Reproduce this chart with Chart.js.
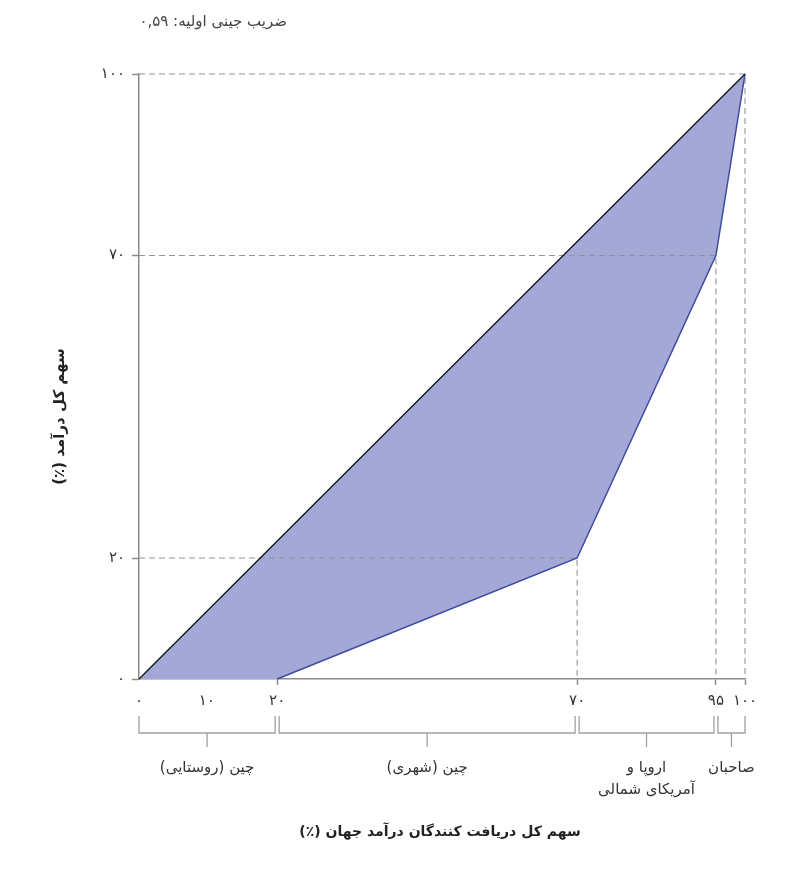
<!DOCTYPE html>
<html lang="fa">
<head>
<meta charset="utf-8">
<title>منحنی لورنز</title>
<script src="https://cdn.jsdelivr.net/npm/chart.js@4/dist/chart.umd.min.js"></script>
<style>
  html, body { margin: 0; padding: 0; background: #fff; }
  #wrap { width: 810px; height: 889px; }
</style>
</head>
<body>
<div id="wrap"><canvas id="lorenz-chart" width="810" height="889"></canvas></div>
<script>
// cumulative share of recipients (x) and of income (y), in percent
const populationShare = [0, 20, 70, 95, 100];
const incomeShare = [0, 0, 20, 70, 100];

const xTickValues = [0, 10, 20, 70, 95, 100];
const yTickValues = [0, 20, 70, 100];

// groups shown under the axis, each spanning two boundaries
const groupBounds = [0, 20, 70, 95, 100];
const groupNames = [
  ['چین (روستایی)'],
  ['چین (شهری)'],
  ['اروپا و', 'آمریکای شمالی'],
  ['صاحبان'],
];

const titleText = 'ضریب جینی اولیه: ۰,۵۹';
const xTitle = 'سهم کل دریافت کنندگان درآمد جهان (٪)';
const yTitle = 'سهم کل درآمد (٪)';

const FONT = '"DejaVu Sans", sans-serif';
const TEXT = '#333';
const GREY = '#8c8c8c';

function toFa(n) {
  return String(n).replace(/\d/g, (d) => '۰۱۲۳۴۵۶۷۸۹'[d]);
}

// the horizontal axis in the original is drawn stretched, not to scale
const xWarpValues = [0, 10, 20, 70, 95, 100];
const xWarpShares = [0, 0.112, 0.228, 0.723, 0.952, 1];

function piecewise(v, from, to) {
  for (let i = 1; i < from.length; i++) {
    if (v <= from[i] || i === from.length - 1) {
      const t = (v - from[i - 1]) / (from[i] - from[i - 1]);
      return to[i - 1] + t * (to[i] - to[i - 1]);
    }
  }
  return to[0];
}

class WarpedScale extends Chart.LinearScale {
  getPixelForValue(value) {
    if (value === null || isNaN(value)) return NaN;
    return this.getPixelForDecimal(piecewise(value, xWarpValues, xWarpShares));
  }
  getValueForPixel(pixel) {
    return piecewise(this.getDecimalForPixel(pixel), xWarpShares, xWarpValues);
  }
}
WarpedScale.id = 'warped';
Chart.register(WarpedScale);

const lorenzPoints = populationShare.map((x, i) => ({ x: x, y: incomeShare[i] }));
// area between the curve and the line of equality
const gapShape = lorenzPoints.concat([{ x: 0, y: 0 }]);

// dashed guides from each point back to both axes
const guideSets = lorenzPoints
  .filter((p) => p.y > 0)
  .map((p) => ({
    data: [{ x: 0, y: p.y }, { x: p.x, y: p.y }, { x: p.x, y: 0 }],
    borderColor: '#949494',
    borderWidth: 1.1,
    borderDash: [6, 4],
    pointRadius: 0,
    fill: false,
    clip: false,
    order: 2,
  }));

const decorPlugin = {
  id: 'decor',
  afterDraw(chart) {
    const { ctx, chartArea, scales } = chart;
    const x = scales.x;
    const base = chartArea.bottom;
    ctx.save();

    // brackets and group names
    ctx.strokeStyle = '#a0a0a0';
    ctx.lineWidth = 1.3;
    ctx.fillStyle = TEXT;
    ctx.font = '15px ' + FONT;
    ctx.textAlign = 'center';
    ctx.textBaseline = 'middle';
    ctx.direction = 'rtl';
    for (let i = 0; i < groupNames.length; i++) {
      const a = x.getPixelForValue(groupBounds[i]) + (i === 0 ? 0 : 2);
      const b = x.getPixelForValue(groupBounds[i + 1]) - (i === groupNames.length - 1 ? 0 : 2);
      const mid = (a + b) / 2;
      ctx.beginPath();
      ctx.moveTo(a, base + 37);
      ctx.lineTo(a, base + 54);
      ctx.lineTo(b, base + 54);
      ctx.lineTo(b, base + 37);
      ctx.moveTo(mid, base + 54);
      ctx.lineTo(mid, base + 68);
      ctx.stroke();
      groupNames[i].forEach((line, j) => {
        ctx.fillText(line, mid, base + 89 + j * 22);
      });
    }

    // axis titles
    ctx.fillStyle = '#222';
    ctx.font = 'bold 14px ' + FONT;
    ctx.fillText(xTitle, 440, base + 153);
    ctx.font = 'bold 15px ' + FONT;
    ctx.save();
    ctx.translate(60, (chartArea.top + chartArea.bottom) / 2 + 40);
    ctx.rotate(-Math.PI / 2);
    ctx.fillText(yTitle, 0, 0);
    ctx.restore();

    // note at the top
    ctx.font = '15px ' + FONT;
    ctx.fillStyle = '#444';
    ctx.textAlign = 'right';
    ctx.fillText(titleText, 287, 22);
    ctx.restore();
  },
};

const ctx = document.getElementById('lorenz-chart').getContext('2d');
const lorenzChart = new Chart(ctx, {
  type: 'line',
  data: {
    datasets: [
      {
        label: 'equality',
        data: [{ x: 0, y: 0 }, { x: 100, y: 100 }],
        borderColor: '#111',
        borderWidth: 1.3,
        pointRadius: 0,
        fill: false,
        clip: false,
        order: 0,
      },
      {
        label: 'lorenz',
        data: lorenzPoints,
        borderColor: '#3f4aa3',
        borderWidth: 1.5,
        pointRadius: 0,
        fill: false,
        clip: false,
        order: 1,
        segment: {
          borderColor: (c) => (c.p1.parsed.y === 0 ? 'rgba(0,0,0,0)' : '#3f4aa3'),
        },
      },
      ...guideSets,
      {
        label: 'gap',
        data: gapShape,
        borderWidth: 0,
        borderColor: 'rgba(0,0,0,0)',
        backgroundColor: '#a3a8d6',
        pointRadius: 0,
        fill: 'shape',
        clip: false,
        order: 3,
      },
    ],
  },
  options: {
    responsive: false,
    animation: false,
    events: [],
    layout: { padding: { top: 74, right: 65, left: 0, bottom: 0 } },
    plugins: {
      legend: { display: false },
      tooltip: { enabled: false },
      title: { display: false },
    },
    scales: {
      x: {
        type: 'warped',
        min: 0,
        max: 100,
        afterBuildTicks: (s) => { s.ticks = xTickValues.map((v) => ({ value: v })); },
        afterFit: (s) => { s.height = 210; },
        border: { display: true, color: GREY, width: 1.5 },
        grid: {
          drawOnChartArea: false,
          drawTicks: true,
          tickLength: 6,
          tickWidth: 1.5,
          tickColor: (c) => (c.tick && c.tick.value <= 10 ? 'rgba(0,0,0,0)' : GREY),
        },
        ticks: {
          autoSkip: false,
          maxRotation: 0,
          padding: 7,
          color: TEXT,
          font: { family: FONT, size: 15 },
          callback: (v) => toFa(v),
        },
      },
      y: {
        type: 'linear',
        min: 0,
        max: 100,
        afterBuildTicks: (s) => { s.ticks = yTickValues.map((v) => ({ value: v })); },
        afterFit: (s) => { s.width = 139; },
        border: { display: true, color: GREY, width: 1.5 },
        grid: {
          drawOnChartArea: false,
          drawTicks: true,
          tickLength: 7,
          tickWidth: 1.5,
          tickColor: GREY,
        },
        ticks: {
          padding: 7,
          color: TEXT,
          font: { family: FONT, size: 15 },
          callback: (v) => toFa(v),
        },
      },
    },
  },
  plugins: [decorPlugin],
});
</script>
</body>
</html>
